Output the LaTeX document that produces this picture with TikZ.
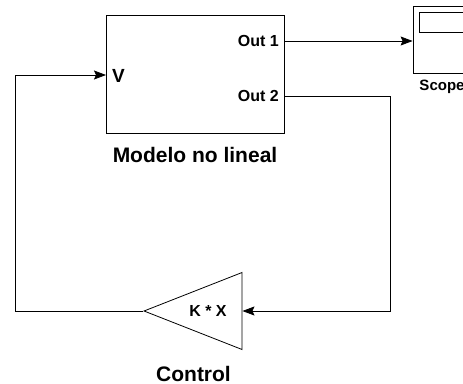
\documentclass[tikz,border=0pt]{standalone}
\usepackage{fontspec}
\setmainfont{Liberation Sans}
\usetikzlibrary{arrows.meta,calc,positioning,shapes.geometric}

\begin{document}
\begin{tikzpicture}[x=1pt,y=-1pt,
  blk/.style={draw,line width=.8pt,minimum width=178pt,minimum height=118pt,inner sep=0pt},
  scopebox/.style={blk,minimum width=58pt,minimum height=67pt},
  gain/.style={draw,line width=.8pt,isosceles triangle,isosceles triangle stretches,
               shape border rotate=180,minimum width=77pt,minimum height=98pt,inner sep=0pt},
  wire/.style={line width=.8pt},
  sig/.style={wire,-{Stealth[length=12pt,width=9pt,inset=2pt]}},
  port/.style={font=\bfseries\fontsize{16}{18}\selectfont,inner sep=0pt},
  blklabel/.style={font=\bfseries\fontsize{21}{24}\selectfont,inner sep=0pt}
]
\useasboundingbox (0,0) rectangle (463,383);
% blocks
\node[blk] (model) at (195,74) {};
\node[scopebox] (scope) at (442,39.5) {};
\draw[wire] ($(scope.north west)+(7,7)$) rectangle ++(46,20);
\node[gain,anchor=apex] (ctrl) at (143,311) {};
% ports
\coordinate (vin) at (106,75);
\coordinate (out1) at (284,41);
\coordinate (out2) at (284,96);
\node[port,anchor=west,font=\bfseries\fontsize{19}{20}\selectfont] (lv) at (112,76) {V};
\node[port,anchor=east] (lout1) at (279,41) {Out 1};
\node[port,anchor=east] (lout2) at (279,96) {Out 2};
\node[port] (lgain) at (208,311) {K * X};
% captions
\node[blklabel] (lmodel) at (195,155) {Modelo no lineal};
\node[blklabel] (lctrl) at (193.5,374) {Control};
\node[port,font=\bfseries\fontsize{15}{18}\selectfont] (lscope) at (442,87) {Scope};
% signals
\draw[sig] (out1) -- (out1 -| scope.west);
\draw[sig] (out2) -- ++(106,0) |- (ctrl.lower side);
\draw[sig] (ctrl.apex) -- ++(-128,0) |- (vin);
\end{tikzpicture}
\end{document}
